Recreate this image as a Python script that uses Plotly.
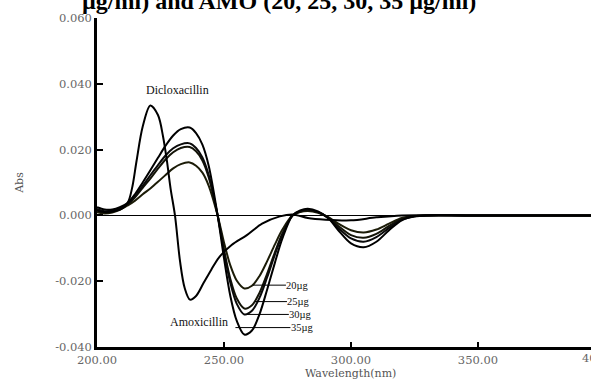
import plotly.graph_objects as go

# ---------------- data ----------------
wl_dicloxacillin = [200, 203, 206, 209, 211, 212.5, 214, 215.6, 218, 221, 224, 226, 227.5, 229,
                    230.7, 232.7, 234.5, 236.6, 239, 242, 245, 248, 253, 259, 265, 272, 277,
                    283, 290, 300, 310, 320, 340, 370, 395]
abs_dicloxacillin = [0.0015, 0.0010, 0.0012, 0.0018, 0.0028, 0.0045, 0.0090, 0.0167, 0.0270,
                     0.0334, 0.0305, 0.0240, 0.0167, 0.0080, 0.0000, -0.0140, -0.0220, -0.0256,
                     -0.0245, -0.0205, -0.0165, -0.0128, -0.0090, -0.0060, -0.0025, -0.0003,
                     0.0003, -0.0008, -0.0013, -0.0015, -0.0006, 0.0, 0.0, 0.0, 0.0]

wl_amoxicillin = [200, 203, 206, 209, 212, 215, 218, 221, 224, 227, 230, 233, 236.5, 239, 241.5,
                  244, 247.5, 250, 252.5, 255, 258, 261, 264, 267, 270, 273, 277, 280, 283, 287,
                  291, 295, 300, 305, 310, 315, 320, 325, 330, 345, 370, 395]
abs_amo_35 = [0.0025, 0.0018, 0.0018, 0.0025, 0.0038, 0.0065, 0.0100, 0.0137, 0.0175, 0.0212,
              0.0243, 0.0262, 0.0267, 0.0250, 0.0215, 0.0150, 0.0000, -0.0130, -0.0245, -0.0320,
              -0.0362, -0.0350, -0.0300, -0.0225, -0.0145, -0.0070, 0.0000, 0.0015, 0.0020,
              0.0012, -0.0008, -0.0045, -0.0085, -0.0097, -0.0080, -0.0045, -0.0015, -0.0003,
              0.0, 0.0, 0.0, 0.0]
abs_amo_30 = [0.0020, 0.0013, 0.0015, 0.0022, 0.0035, 0.0058, 0.0090, 0.0122, 0.0153, 0.0182,
              0.0204, 0.0216, 0.0219, 0.0205, 0.0176, 0.0122, 0.0000, -0.0110, -0.0205, -0.0268,
              -0.0301, -0.0290, -0.0250, -0.0188, -0.0120, -0.0058, 0.0000, 0.0013, 0.0017,
              0.0010, -0.0008, -0.0038, -0.0070, -0.0080, -0.0066, -0.0038, -0.0013, -0.0003,
              0.0, 0.0, 0.0, 0.0]
abs_amo_25 = [0.0015, 0.0010, 0.0012, 0.0020, 0.0033, 0.0055, 0.0084, 0.0112, 0.0142, 0.0170,
              0.0192, 0.0205, 0.0208, 0.0195, 0.0167, 0.0115, 0.0000, -0.0104, -0.0193, -0.0252,
              -0.0283, -0.0273, -0.0235, -0.0177, -0.0113, -0.0055, 0.0000, 0.0012, 0.0016,
              0.0010, -0.0006, -0.0032, -0.0060, -0.0068, -0.0056, -0.0032, -0.0011, -0.0002,
              0.0, 0.0, 0.0, 0.0]
abs_amo_20 = [0.0010, 0.0006, 0.0009, 0.0017, 0.0030, 0.0045, 0.0064, 0.0082, 0.0102, 0.0123,
              0.0143, 0.0156, 0.0161, 0.0151, 0.0130, 0.0090, 0.0000, -0.0082, -0.0152, -0.0198,
              -0.0222, -0.0214, -0.0184, -0.0139, -0.0089, -0.0043, 0.0000, 0.0010, 0.0013,
              0.0008, -0.0005, -0.0025, -0.0045, -0.0052, -0.0043, -0.0025, -0.0008, -0.0002,
              0.0, 0.0, 0.0, 0.0]

amo_series = [("20µg", abs_amo_20), ("25µg", abs_amo_25), ("30µg", abs_amo_30), ("35µg", abs_amo_35)]

x_tick_values = [200, 250, 300, 350]
x_tick_labels = ["200.00", "250.00", "300.00", "350.00"]
y_tick_values = [-0.04, -0.02, 0.0, 0.02, 0.04, 0.06]
y_tick_labels = ["-0.040", "-0.020", "0.000", "0.020", "0.040", "0.060"]

# label anchor points on curves (wavelength, absorbance) and pixel offset of text
label_points = [("20µg", 261.4, -0.0212, 45), ("25µg", 262.2, -0.0262, 44),
                ("30µg", 259.0, -0.0301, 54), ("35µg", 254.5, -0.0341, 67)]

title_text = "µg/ml) and AMO (20, 25, 30, 35 µg/ml)"

# ---------------- figure ----------------
fig = go.Figure()
line_colors = ["#1c1c08", "#141408", "#0a0a0a", "#000000"]
for (name, vals), col in zip(amo_series, line_colors):
    fig.add_trace(go.Scatter(x=wl_amoxicillin, y=vals, mode="lines", name=name,
                             line=dict(color=col, width=2, shape="spline", smoothing=0.9),
                             showlegend=False))
fig.add_trace(go.Scatter(x=wl_dicloxacillin, y=abs_dicloxacillin, mode="lines",
                         name="Dicloxacillin",
                         line=dict(color="black", width=2, shape="spline", smoothing=0.9),
                         showlegend=False))

label_font = dict(family="Liberation Serif, serif", size=10.5, color="#111")
name_font = dict(family="Liberation Serif, serif", size=12, color="#111")
tick_font = dict(family="DejaVu Serif, serif", size=11.5, color="#666")
annotations = []
for text, xv, yv, ax in label_points:
    annotations.append(dict(x=xv, y=yv, xref="x", yref="y", text=text, showarrow=True,
                            arrowhead=0, arrowwidth=1, arrowcolor="black", ax=ax, ay=0,
                            font=label_font, xanchor="center", borderpad=0))
annotations.append(dict(x=231.5, y=0.038, xref="x", yref="y", text="Dicloxacillin",
                        showarrow=False, font=name_font))
annotations.append(dict(x=240.0, y=-0.0325, xref="x", yref="y", text="Amoxicillin",
                        showarrow=False, font=name_font))
# partially visible 400.00 tick label at the right edge
annotations.append(dict(x=(580 - 97) / 494, y=0, xref="paper", yref="paper",
                        xanchor="left", yanchor="top", yshift=-2, text="400.00",
                        showarrow=False, font=tick_font))
# x axis title
annotations.append(dict(x=(350 - 97) / 494, y=-26 / 329, xref="paper", yref="paper",
                        xanchor="center", yanchor="middle", text="Wavelength(nm)",
                        showarrow=False,
                        font=dict(family="DejaVu Serif, serif", size=11, color="#555")))
# clipped title at the top
annotations.append(dict(x=-0.035, y=1.052, xref="paper", yref="paper", xanchor="left",
                        yanchor="middle", text="<b>" + title_text + "</b>", showarrow=False,
                        font=dict(family="Liberation Serif, serif", size=24, color="black")))

fig.update_layout(
    width=591, height=383,
    margin=dict(l=97, r=0, t=18, b=36),
    paper_bgcolor="white", plot_bgcolor="white",
    annotations=annotations,
    xaxis=dict(range=[200, 394.5], tickvals=x_tick_values, ticktext=x_tick_labels,
               showline=True, linecolor="black", linewidth=2.5, ticks="inside", ticklen=5,
               tickwidth=2, tickcolor="black", showgrid=False, zeroline=False,
               tickfont=tick_font),
    yaxis=dict(range=[-0.04, 0.06], tickvals=y_tick_values, ticktext=y_tick_labels,
               showline=True, linecolor="black", linewidth=2.5, ticks="inside", ticklen=6,
               tickwidth=2, tickcolor="black", showgrid=False,
               zeroline=True, zerolinecolor="black", zerolinewidth=1,
               tickfont=tick_font,
               title=dict(text="Abs", standoff=30,
                          font=dict(family="DejaVu Serif, serif", size=11, color="#555"))),
)

fig.write_html("out.html")
